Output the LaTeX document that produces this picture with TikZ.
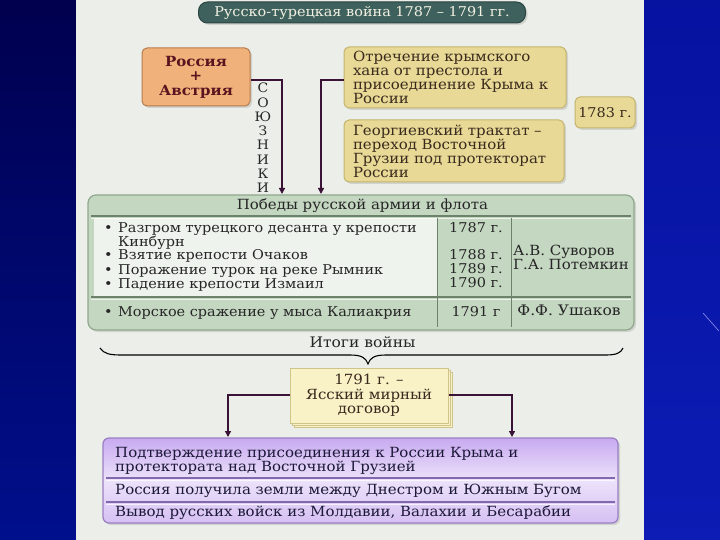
\documentclass[tikz,border=0pt]{standalone}
\usepackage{fontspec}
\setmainfont{DejaVu Serif}[FakeStretch=1.07]
\usetikzlibrary{arrows.meta,calc,shadows}
\definecolor{navyA}{HTML}{00004E}
\definecolor{navyB}{HTML}{000F8C}
\definecolor{blueA}{HTML}{0612A0}
\definecolor{blueB}{HTML}{0C1CB4}
\definecolor{paper}{HTML}{ECEFE9}
\definecolor{titlefill}{HTML}{3F615D}
\definecolor{titledraw}{HTML}{2A4441}
\definecolor{titletext}{HTML}{F2F0E2}
\definecolor{orangefill}{HTML}{F0B27A}
\definecolor{orangedraw}{HTML}{B87A4C}
\definecolor{maroon}{HTML}{5A1420}
\definecolor{yelfill}{HTML}{E8DA96}
\definecolor{yeldraw}{HTML}{C4B46C}
\definecolor{yeltext}{HTML}{3A2A1E}
\definecolor{greenfill}{HTML}{C4D7C1}
\definecolor{greendraw}{HTML}{8FA88D}
\definecolor{listbg}{HTML}{EFF3EE}
\definecolor{sepc}{HTML}{6C826B}
\definecolor{txt}{HTML}{262626}
\definecolor{creamfill}{HTML}{F8F2C6}
\definecolor{creamdraw}{HTML}{CFC48A}
\definecolor{purpA}{HTML}{C8AAF0}
\definecolor{purpB}{HTML}{ECE2FA}
\definecolor{purpC}{HTML}{D6C0F3}
\definecolor{purpdraw}{HTML}{9A7EC4}
\definecolor{purpsep}{HTML}{8468AE}
\definecolor{purptext}{HTML}{1C1838}
\definecolor{arrowc}{HTML}{3A1236}
\tikzset{
  arr/.style={draw=arrowc, line width=1.3pt, -{Triangle[length=6pt,width=6pt]}},
  body/.style={font=\fontsize{13.5}{14}\selectfont, text=txt, inner sep=0pt},
  ptext/.style={font=\fontsize{14}{14}\selectfont, text=purptext, inner sep=0pt, anchor=base west},
  shad/.style={drop shadow={opacity=0.25, shadow xshift=2pt, shadow yshift=-2pt}},
  yelbox/.style={shad, draw=yeldraw, line width=1pt, fill=yelfill, rounded corners=5pt,
    font=\fontsize{14}{14}\selectfont, text=yeltext, inner xsep=9pt},
  sepline/.style={draw=sepc, line width=1.2pt},
  sepl/.style={draw=white, line width=0.8pt, opacity=0.7},
  psep/.style={draw=purpsep, line width=1.1pt},
}
\begin{document}
\begin{tikzpicture}[x=1pt,y=-1pt]
\useasboundingbox (0,0) rectangle (720,540);
% backgrounds
\fill[top color=navyA, bottom color=navyB] (0,0) rectangle (76,540);
\fill[top color=blueA, bottom color=blueB] (644,0) rectangle (720,540);
\draw[white!70!blue, line width=0.6pt, opacity=0.8] (703,313) -- (719,331);
\fill[paper] (76,0) rectangle (644,540);

% title
\node[shad, draw=titledraw, fill=titlefill, rounded corners=9pt, line width=1pt,
  minimum width=327pt, minimum height=21pt, text=titletext,
  font=\fontsize{13.5}{14}\selectfont, inner sep=0pt] (title) at (362,12.5)
  {Русско-турецкая война 1787 – 1791 гг.};

% Russia + Austria
\node[shad, draw=orangedraw, fill=orangefill, rounded corners=5pt, line width=1pt,
  minimum width=108pt, minimum height=58pt, align=center, text=maroon,
  font=\bfseries\fontsize{14}{14.5}\selectfont, inner sep=0pt] (ra) at (196,77)
  {Россия\\+\\Австрия};

% allies text
\node[body, align=center, font=\fontsize{13}{14.3}\selectfont] (soyuz) at (263,138)
  {С\\О\\Ю\\З\\Н\\И\\К\\И};

% yellow boxes
\node[yelbox, minimum width=220pt, minimum height=61pt, text width=204pt, align=left]
  (otr) at (455,77.5)
  {Отречение крымского\\хана от престола и\\присоединение Крыма к\\России};
\node[yelbox, minimum width=218pt, minimum height=62pt, text width=202pt, align=left]
  (geo) at (454,151)
  {Георгиевский трактат –\\переход Восточной\\Грузии под протекторат\\России};
\node[yelbox, minimum width=60pt, minimum height=31pt, inner xsep=2pt,
  font=\fontsize{13.5}{14}\selectfont] (y1783) at (605,112.5) {1783 г.};

% victories panel
\node[shad, draw=greendraw, fill=greenfill, rounded corners=8pt, line width=1.2pt,
  minimum width=546pt, minimum height=135pt] (win) at (361,262.5) {};
\fill[listbg] (94,218) rectangle (437,296);
\draw[sepline] (91,216) -- (631,216);
\draw[sepl] (91,218.5) -- (631,218.5);
\draw[sepline] (91,297) -- (631,297);
\draw[sepl] (91,299.5) -- (631,299.5);
\draw[sepline, line width=0.8pt] (437,218) -- (437,327);
\draw[sepline, line width=0.8pt] (511,218) -- (511,327);

\node[body, anchor=base, font=\fontsize{14}{14}\selectfont] (hdr) at (362.5,209.5)
  {Победы русской армии и флота};

\node[body, anchor=base west] (v1) at (104,232.5) {\makebox[14pt][l]{•}Разгром турецкого десанта у крепости};
\node[body, anchor=base west] (v1b) at (118,246) {Кинбурн};
\node[body, anchor=base west] (v2) at (104,259.5) {\makebox[14pt][l]{•}Взятие крепости Очаков};
\node[body, anchor=base west] (v3) at (104,274) {\makebox[14pt][l]{•}Поражение турок на реке Рымник};
\node[body, anchor=base west] (v4) at (104,288) {\makebox[14pt][l]{•}Падение крепости Измаил};
\node[body, anchor=base west] (v5) at (104,316) {\makebox[14pt][l]{•}Морское сражение у мыса Калиакрия};

\node[body, anchor=base] (d1) at (476,232.5) {1787 г.};
\node[body, anchor=base] (d2) at (476,259.5) {1788 г.};
\node[body, anchor=base] (d3) at (476,273.5) {1789 г.};
\node[body, anchor=base] (d4) at (476,287.5) {1790 г.};
\node[body, anchor=base] (d5) at (476,316) {1791 г};

\node[body, anchor=base west, font=\fontsize{14}{14}\selectfont] (n1) at (513,255.5) {А.В. Суворов};
\node[body, anchor=base west, font=\fontsize{14}{14}\selectfont] (n2) at (513,269.5) {Г.А. Потемкин};
\node[body, anchor=base, font=\fontsize{14.5}{14}\selectfont] (n3) at (569,315.5) {Ф.Ф. Ушаков};

% arrows into panel
\coordinate (a1) at (282,194);
\coordinate (a2) at (321,194);
\draw[arr] ($(ra.east)+(0,3)$) -| (a1);
\draw[arr] ($(otr.west)+(0,2.5)$) -| (a2);

% results
\node[body, anchor=base, font=\fontsize{14.5}{14}\selectfont] (itogi) at (362.5,347.5) {Итоги войны};
\draw[black, line width=1.1pt]
  (100,348) .. controls (104,354) and (110,355) .. (122,355)
  -- (350,355) .. controls (362,355) and (366,358) .. (368,364)
  .. controls (370,358) and (374,355) .. (386,355)
  -- (606,355) .. controls (616,355) and (621,353) .. (623,348);

\node[double copy shadow={shadow xshift=2pt, shadow yshift=-2pt, opacity=1},
  draw=creamdraw, fill=creamfill, line width=1pt,
  minimum width=158pt, minimum height=55pt, align=center, text=yeltext,
  font=\fontsize{14}{14.5}\selectfont, inner sep=0pt] (yas) at (369,395.5)
  {1791 г. –\\Ясский мирный\\договор};

\node[shad, draw=purpdraw, line width=1.2pt, rounded corners=6pt,
  top color=purpA, bottom color=purpC, middle color=purpB,
  minimum width=515pt, minimum height=85pt] (res) at (360.5,480.5) {};

\coordinate (b1) at (228,437);
\coordinate (b2) at (512,437);
\draw[arr] ($(yas.west)+(0,-0.5)$) -| (b1);
\draw[arr] ($(yas.east)+(0,-0.5)$) -| (b2);

\draw[psep] (106,478) -- (615,478);
\draw[sepl] (106,480.5) -- (615,480.5);
\draw[psep] (106,502) -- (615,502);
\draw[sepl] (106,504.5) -- (615,504.5);

\node[ptext] (r1) at (115,457.5) {Подтверждение присоединения к России Крыма и};
\node[ptext] (r1b) at (115,471.5) {протектората над Восточной Грузией};
\node[ptext] (r2) at (115,494.5) {Россия получила земли между Днестром и Южным Бугом};
\node[ptext] (r3) at (115,516.5) {Вывод русских войск из Молдавии, Валахии и Бесарабии};
\end{tikzpicture}
\end{document}
